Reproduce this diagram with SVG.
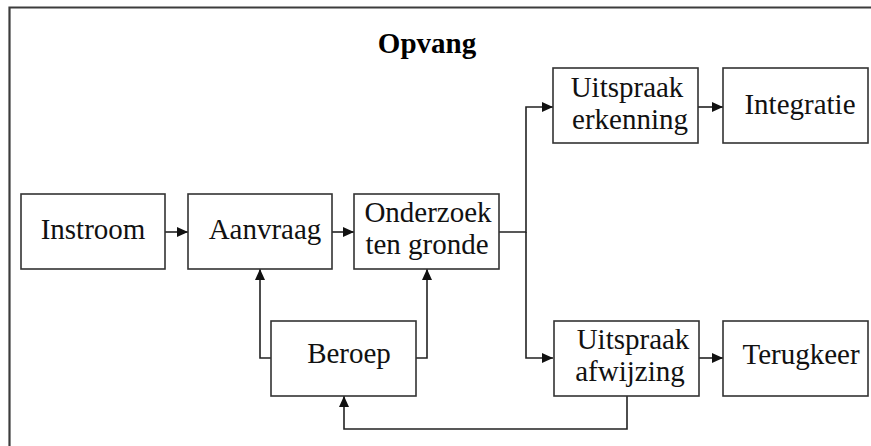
<svg xmlns="http://www.w3.org/2000/svg" width="871" height="446" viewBox="0 0 871 446">
<style>
.box{fill:#fff;stroke:#333;stroke-width:1.6}
.lbl{font-family:"Liberation Serif","Times New Roman",serif;font-size:29px;fill:#111;text-anchor:middle}
.title{font-family:"Liberation Serif","Times New Roman",serif;font-size:29px;font-weight:bold;fill:#000;text-anchor:middle}
.conn{fill:none;stroke:#222;stroke-width:1.6}
</style>
<defs>
<marker id="ah" markerUnits="userSpaceOnUse" markerWidth="11" markerHeight="10" refX="11" refY="5" orient="auto">
<path d="M0,0 L11,5 L0,10 z" fill="#111"/>
</marker>
</defs>
<rect width="871" height="446" fill="#fff"/>
<path d="M9.5,446 V7.5 H871" fill="none" stroke="#3c3c3c" stroke-width="2.2"/>
<text class="title" x="427" y="53">Opvang</text>
<g id="connectors">
<path class="conn" d="M165,232 H188" marker-end="url(#ah)"/>
<path class="conn" d="M332,232 H354" marker-end="url(#ah)"/>
<path class="conn" d="M499,232 H526 V107 H553" marker-end="url(#ah)"/>
<path class="conn" d="M526,232 V358 H553" marker-end="url(#ah)"/>
<path class="conn" d="M698,107 H723" marker-end="url(#ah)"/>
<path class="conn" d="M699,358 H723" marker-end="url(#ah)"/>
<path class="conn" d="M271,358 H260 V269" marker-end="url(#ah)"/>
<path class="conn" d="M416,358 H427 V269" marker-end="url(#ah)"/>
<path class="conn" d="M627,396 V429 H344 V396" marker-end="url(#ah)"/>
</g>
<g id="instroom"><rect class="box" x="21" y="194" width="144" height="75"/><text class="lbl" x="93" y="239">Instroom</text></g>
<g id="aanvraag"><rect class="box" x="188" y="194" width="144" height="75"/><text class="lbl" x="265" y="239">Aanvraag</text></g>
<g id="onderzoek"><rect class="box" x="354" y="194" width="145" height="75"/><text class="lbl" x="428" y="222">Onderzoek</text><text class="lbl" x="427" y="254">ten gronde</text></g>
<g id="beroep"><rect class="box" x="271" y="321" width="145" height="75"/><text class="lbl" x="349" y="363">Beroep</text></g>
<g id="erkenning"><rect class="box" x="553" y="68" width="145" height="75"/><text class="lbl" x="627" y="97">Uitspraak</text><text class="lbl" x="630" y="129">erkenning</text></g>
<g id="integratie"><rect class="box" x="723" y="68" width="145" height="75"/><text class="lbl" x="800" y="114">Integratie</text></g>
<g id="afwijzing"><rect class="box" x="554" y="321" width="145" height="75"/><text class="lbl" x="633" y="349">Uitspraak</text><text class="lbl" x="630" y="381">afwijzing</text></g>
<g id="terugkeer"><rect class="box" x="723" y="321" width="145" height="75"/><text class="lbl" x="801" y="364">Terugkeer</text></g>
</svg>
